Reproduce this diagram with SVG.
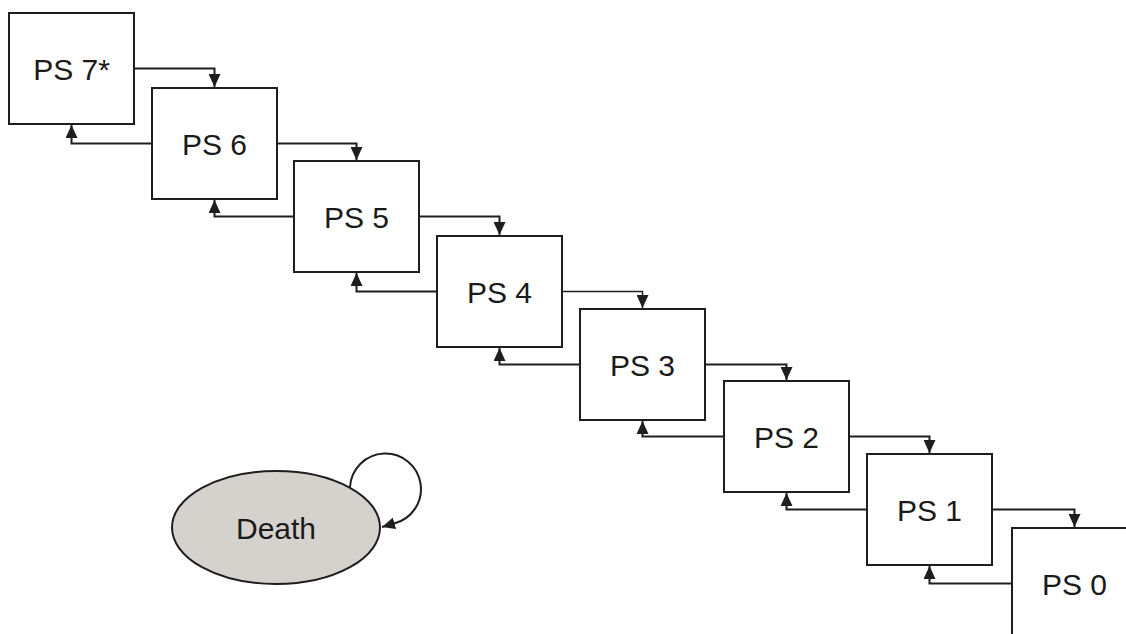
<svg xmlns="http://www.w3.org/2000/svg" width="1126" height="634" viewBox="0 0 1126 634">
<defs>
<style>
.box{fill:#ffffff;stroke:#1e1e1e;stroke-width:2}
.lbl{font-family:"Liberation Sans",Arial,sans-serif;font-size:30px;fill:#1a1a1a;text-anchor:middle}
.con{fill:none;stroke:#1e1e1e;stroke-width:2;marker-end:url(#ah)}
</style>
<marker id="ah" viewBox="0 0 13 12" refX="13" refY="6" markerWidth="13" markerHeight="12" markerUnits="userSpaceOnUse" orient="auto">
<path d="M0,0 L13,6 L0,12 z" fill="#1e1e1e"/>
</marker>
</defs>
<rect width="1126" height="634" fill="#ffffff"/>
<g id="connectors">
<path class="con" d="M134 68.5 H214.5 V87"/>
<path class="con" d="M277 143.5 H356.5 V160"/>
<path class="con" d="M419 216.5 H499.5 V235"/>
<path class="con" d="M562 291.5 H642.5 V308" style="stroke-width:1.5"/>
<path class="con" d="M705 364.5 H786.5 V380"/>
<path class="con" d="M849 436.5 H929.5 V453"/>
<path class="con" d="M992 509.5 H1074.5 V527"/>
<path class="con" d="M152 143.5 H71.5 V125"/>
<path class="con" d="M294 216.5 H214.5 V200"/>
<path class="con" d="M437 291.5 H356.5 V273"/>
<path class="con" d="M580 364.5 H499.5 V348"/>
<path class="con" d="M724 436.5 H642.5 V421"/>
<path class="con" d="M867 509.5 H786.5 V493"/>
<path class="con" d="M1012 583.5 H929.5 V566"/>
<path class="con" d="M350 487 A35.5 35.5 0 1 1 394 523.5 L382 527"/>
</g>
<g id="ps7"><rect class="box" x="9" y="13" width="125" height="111"/><text class="lbl" x="71.5" y="79.5">PS 7*</text></g>
<g id="ps6"><rect class="box" x="152" y="88" width="125" height="111"/><text class="lbl" x="214.5" y="154.5">PS 6</text></g>
<g id="ps5"><rect class="box" x="294" y="161" width="125" height="111"/><text class="lbl" x="356.5" y="227.5">PS 5</text></g>
<g id="ps4"><rect class="box" x="437" y="236" width="125" height="111"/><text class="lbl" x="499.5" y="302.5">PS 4</text></g>
<g id="ps3"><rect class="box" x="580" y="309" width="125" height="111"/><text class="lbl" x="642.5" y="375.5">PS 3</text></g>
<g id="ps2"><rect class="box" x="724" y="381" width="125" height="111"/><text class="lbl" x="786.5" y="447.5">PS 2</text></g>
<g id="ps1"><rect class="box" x="867" y="454" width="125" height="111"/><text class="lbl" x="929.5" y="520.5">PS 1</text></g>
<g id="ps0"><rect class="box" x="1012" y="528" width="125" height="111"/><text class="lbl" x="1074.5" y="594.5">PS 0</text></g>
<g id="death"><ellipse cx="276" cy="527.5" rx="104" ry="56.5" fill="#d5d1cd" stroke="#1e1e1e" stroke-width="2"/><text class="lbl" x="276" y="539">Death</text></g>
</svg>
